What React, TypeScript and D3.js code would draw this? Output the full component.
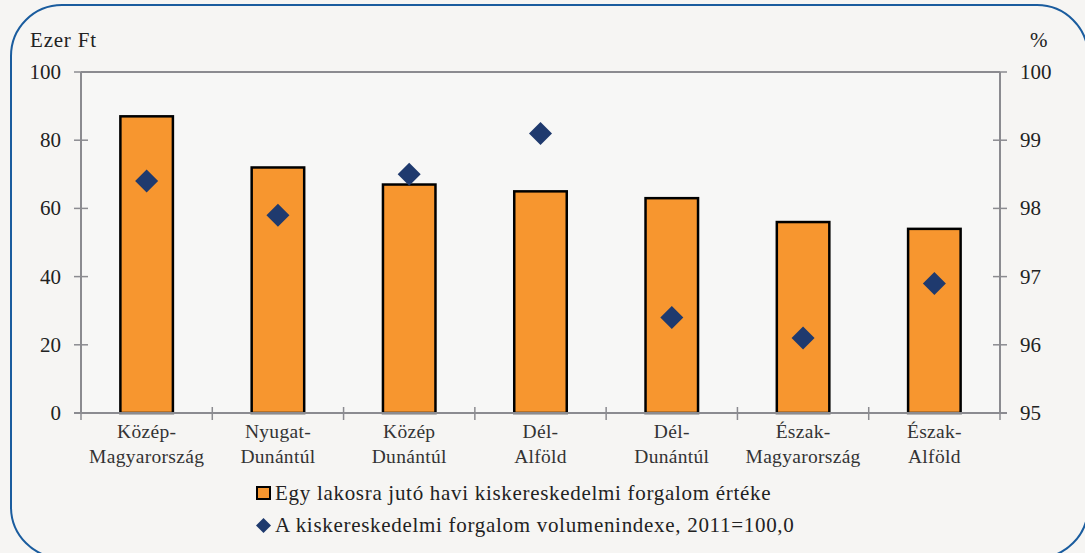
import React from "react";
import * as d3 from "d3";

const categories = [
  ["Közép-", "Magyarország"],
  ["Nyugat-", "Dunántúl"],
  ["Közép", "Dunántúl"],
  ["Dél-", "Alföld"],
  ["Dél-", "Dunántúl"],
  ["Észak-", "Magyarország"],
  ["Észak-", "Alföld"],
];
const barValues = [87, 72, 67, 65, 63, 56, 54];
const indexValues = [98.4, 97.9, 98.5, 99.1, 96.4, 96.1, 96.9];
const leftTicks = [0, 20, 40, 60, 80, 100];
const rightTicks = [95, 96, 97, 98, 99, 100];
const legendLabels = [
  "Egy lakosra jutó havi kiskereskedelmi forgalom értéke",
  "A kiskereskedelmi forgalom volumenindexe, 2011=100,0",
];

const W = 1085;
const H = 553;
const L = 81, R = 1000, T = 72, B = 413;
const FONT = "Liberation Serif, DejaVu Serif, serif";
const AXIS = "#8b8b90";
const TXT = "#222";

export default function App() {
  const x = d3.scaleBand<number>().domain(d3.range(categories.length)).range([L, R]).paddingInner(0.6).paddingOuter(0.3);
  const step = x.step();
  const yL = d3.scaleLinear().domain([0, 100]).range([B, T]);
  const yR = d3.scaleLinear().domain([95, 100]).range([B, T]);
  const diamond = (cx: number, cy: number, r: number) =>
    `M${cx},${cy - r}L${cx + r},${cy}L${cx},${cy + r}L${cx - r},${cy}Z`;

  return (
    <svg width={W} height={H} style={{ position: "absolute", left: 0, top: 0, fontFamily: FONT }}>
      <rect x={0} y={0} width={W} height={H} fill="#f6f5f3" />
      <rect x={11} y={5} width={1077} height={553} rx={51} ry={51} fill="none" stroke="#1a5c9e" strokeWidth={2} />
      <rect x={L} y={T} width={R - L} height={B - T} fill="#f7f7f6" />
      <line x1={L} x2={R} y1={T} y2={T} stroke={AXIS} strokeWidth={2} />
      <line x1={L} x2={L} y1={T} y2={B} stroke={AXIS} strokeWidth={2} />
      <line x1={R} x2={R} y1={T} y2={B} stroke={AXIS} strokeWidth={2} />
      {barValues.map((v, i) => (
        <rect key={i} x={x(i)!} y={yL(v)} width={x.bandwidth()} height={B - yL(v)} fill="#f7962f" stroke="#000" strokeWidth={2.5} />
      ))}
      <line x1={L - 7} x2={R + 7} y1={B} y2={B} stroke={AXIS} strokeWidth={2} />
      {leftTicks.map((t) => (
        <g key={t}>
          <line x1={L - 7} x2={t === 0 || t === 100 ? L : L + 7} y1={yL(t)} y2={yL(t)} stroke={AXIS} strokeWidth={1.5} />
          <text x={61} y={yL(t) + 7} textAnchor="end" fontSize={21} fill={TXT}>{t}</text>
        </g>
      ))}
      {rightTicks.map((t) => (
        <g key={t}>
          <line x1={t === 95 || t === 100 ? R : R - 7} x2={R + 7} y1={yR(t)} y2={yR(t)} stroke={AXIS} strokeWidth={1.5} />
          <text x={1020} y={yR(t) + 7} textAnchor="start" fontSize={21} fill={TXT}>{t}</text>
        </g>
      ))}
      {d3.range(categories.length + 1).map((i) => (
        <line key={i} x1={L + i * step} x2={L + i * step} y1={B - 6} y2={B + 7} stroke={AXIS} strokeWidth={1.5} />
      ))}
      {categories.map((c, i) => (
        <text key={i} textAnchor="middle" fontSize={19.5} letterSpacing={0.3} fill="#333">
          <tspan x={x(i)! + x.bandwidth() / 2} y={438}>{c[0]}</tspan>
          <tspan x={x(i)! + x.bandwidth() / 2} y={463}>{c[1]}</tspan>
        </text>
      ))}
      {indexValues.map((v, i) => (
        <path key={i} d={diamond(x(i)! + x.bandwidth() / 2, yR(v), 11.5)} fill="#1f3a6e" />
      ))}
      <text x={30} y={47} fontSize={21} letterSpacing={0.8} fill={TXT}>Ezer Ft</text>
      <text x={1030} y={47} fontSize={21} fill={TXT}>%</text>
      <rect x={257} y={487} width={13} height={12} fill="#f7962f" stroke="#000" strokeWidth={2} />
      <text x={275} y={500} fontSize={21} letterSpacing={0.7} fill={TXT}>{legendLabels[0]}</text>
      <path d={diamond(263.5, 525.5, 7.5)} fill="#1f3a6e" />
      <text x={275} y={532} fontSize={21} letterSpacing={0.7} fill={TXT}>{legendLabels[1]}</text>
    </svg>
  );
}
